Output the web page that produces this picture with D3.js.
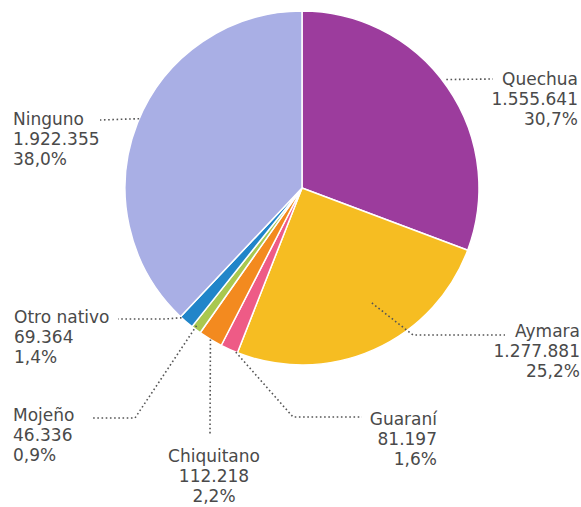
<!DOCTYPE html>
<html>
<head>
<meta charset="utf-8">
<script src="https://cdn.jsdelivr.net/npm/d3@7"></script>
<style>
  body { margin: 0; background: #fff; }
  svg text { font-family: "DejaVu Sans", sans-serif; font-size: 17px; fill: #4a4a4a; }
</style>
</head>
<body>
<div id="chart"></div>
<script>
var width = 581, height = 507;

// data, clockwise from 12 o'clock
var names  = ["Quechua", "Aymara", "Guaraní", "Chiquitano", "Mojeño", "Otro nativo", "Ninguno"];
var values = [1555641, 1277881, 81197, 112218, 46336, 69364, 1922355];
var shares = ["30,7%", "25,2%", "1,6%", "2,2%", "0,9%", "1,4%", "38,0%"];
var colors = ["#9c3c9d", "#f6bd22", "#ee5b86", "#f38a1f", "#a9c84f", "#2185c9", "#a9afe5"];

// label layout: x, first baseline, anchor, where the leader leaves the slice (t along the slice, k of radius), leader elbows
var labelX      = [578, 580, 437, 214, 13, 14, 13];
var labelY      = [85, 337, 425, 462, 421, 323, 125];
var labelAnchor = ["end", "end", "end", "middle", "start", "start", "start"];
var leaderT     = [0.48, 0.42, 0.1, 0.5, 0.7, 0.9, 0.51];
var leaderK     = [1.02, 0.76, 1.0, 1.0, 0.98, 1.0, 1.0];
var leaderPts   = [
  [[493, 79]],
  [[413, 335], [505, 335]],
  [[293, 417], [362, 417]],
  [[210, 435]],
  [[135, 418], [92, 418]],
  [[165, 319], [118, 319]],
  [[100, 120]]
];

var cx = 302, cy = 188, radius = 177;

var fmt = d3.formatLocale({decimal: ",", thousands: ".", grouping: [3], currency: ["", ""]}).format(",d");

var data = names.map(function(n, i) { return {name: n, value: values[i], i: i}; });

var svg = d3.select("#chart").append("svg")
    .attr("width", width)
    .attr("height", height);

var pie = d3.pie().sort(null).value(function(d) { return d.value; });
var arc = d3.arc().innerRadius(0).outerRadius(radius);
var arcs = pie(data);

var g = svg.append("g").attr("transform", "translate(" + cx + "," + cy + ")");

g.selectAll(".slice")
  .data(arcs)
  .enter()
  .append("path")
  .attr("class", "slice")
  .attr("d", arc)
  .attr("fill", function(d) { return colors[d.data.i]; })
  .attr("stroke", "#fff")
  .attr("stroke-width", 1.5)
  .attr("stroke-linejoin", "round");

// leader lines
function leaderStart(d) {
  var i = d.data.i,
      a = d.startAngle + leaderT[i] * (d.endAngle - d.startAngle),
      r = leaderK[i] * radius;
  return [cx + r * Math.sin(a), cy - r * Math.cos(a)];
}

svg.selectAll(".leader")
  .data(arcs)
  .enter()
  .append("path")
  .attr("class", "leader")
  .attr("fill", "none")
  .attr("stroke", "#555")
  .attr("stroke-width", 1.6)
  .attr("stroke-dasharray", "1.6,2.6")
  .attr("d", function(d) { return d3.line()([leaderStart(d)].concat(leaderPts[d.data.i])); });

// labels
var labels = svg.selectAll(".label")
  .data(arcs)
  .enter()
  .append("text")
  .attr("class", "label")
  .attr("text-anchor", function(d) { return labelAnchor[d.data.i]; });

labels.each(function(d) {
  var i = d.data.i, t = d3.select(this);
  [d.data.name, fmt(d.data.value), shares[i]].forEach(function(s, k) {
    t.append("tspan")
      .attr("x", labelX[i])
      .attr("y", labelY[i] + k * 20)
      .text(s);
  });
});
</script>
</body>
</html>
